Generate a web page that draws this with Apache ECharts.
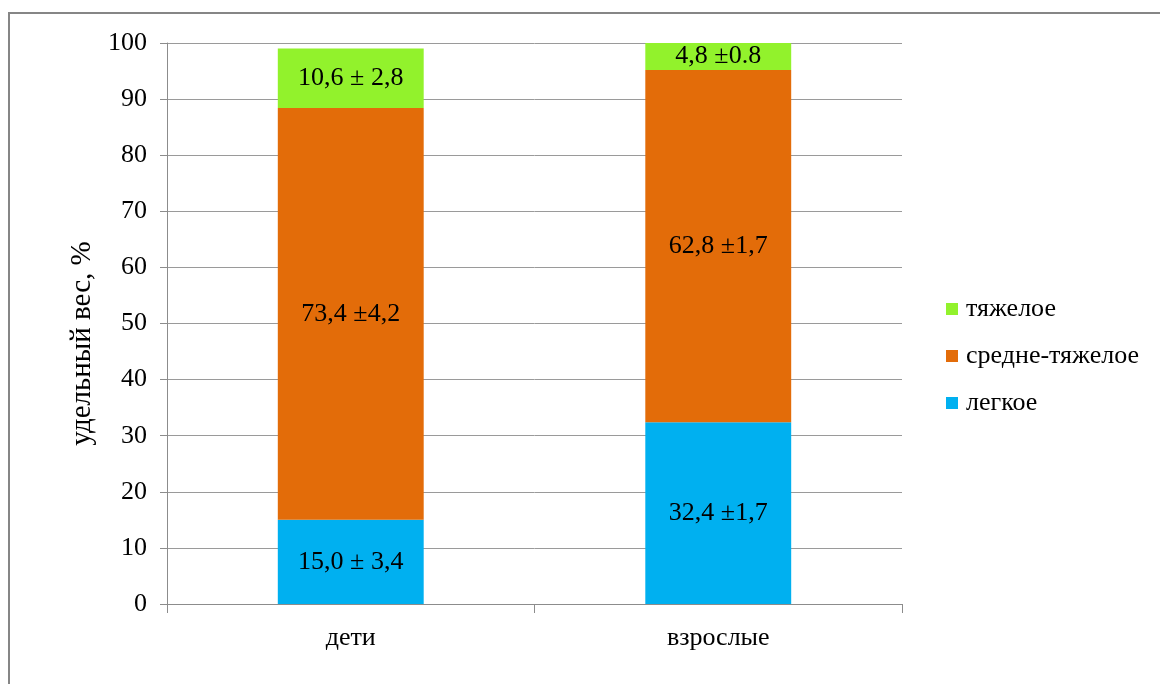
<!DOCTYPE html>
<html>
<head>
<meta charset="utf-8">
<script src="https://cdn.jsdelivr.net/npm/echarts@6/dist/echarts.min.js"></script>
<style>
  html, body { margin: 0; padding: 0; background: #fff; }
  #chart { width: 1160px; height: 684px; }
</style>
</head>
<body>
<div id="chart"></div>
<script>
// Groups on the x axis
const categories = ['дети', 'взрослые'];

// Share of each severity level, %
const lightValues = [15.0, 32.4];
const mediumValues = [73.4, 62.8];
const heavyValues = [10.6, 4.8];

// Value labels with standard deviation, as printed in each segment
const lightLabels = ['15,0 ± 3,4', '32,4 ±1,7'];
const mediumLabels = ['73,4 ±4,2', '62,8 ±1,7'];
const heavyLabels = ['10,6 ± 2,8', '4,8 ±0.8'];

// Y axis ticks
const yMin = 0, yMax = 100, yStep = 10;

const FONT = '"Liberation Serif", "Times New Roman", serif';

const chart = echarts.init(document.getElementById('chart'), null, { renderer: 'canvas' });

function seg(name, values, labels, color) {
  return {
    name: name,
    type: 'bar',
    stack: 'total',
    barWidth: '39.7%',
    data: values,
    itemStyle: { color: color },
    label: {
      show: true,
      position: 'inside',
      color: '#000',
      fontFamily: FONT,
      fontSize: 26,
      formatter: p => labels[p.dataIndex]
    },
    emphasis: { disabled: true }
  };
}

chart.setOption({
  animation: false,
  graphic: [{
    type: 'rect',
    shape: { x: 9, y: 13, width: 1170, height: 700 },
    style: { fill: 'none', stroke: '#868686', lineWidth: 2 },
    silent: true
  }],
  grid: { left: 167, right: 258, top: 43, bottom: 80 },
  legend: {
    orient: 'vertical',
    left: 946,
    top: 296,
    padding: 0,
    itemWidth: 12,
    itemHeight: 12,
    itemGap: 21,
    icon: 'rect',
    data: ['тяжелое', 'средне-тяжелое', 'легкое'],
    textStyle: { fontFamily: FONT, fontSize: 26, color: '#000', lineHeight: 24, padding: [0, 0, 0, 3] }
  },
  xAxis: {
    type: 'category',
    data: categories,
    boundaryGap: true,
    axisLine: { lineStyle: { color: '#8c8c8c', width: 1 } },
    axisTick: { show: true, length: 9, lineStyle: { color: '#8c8c8c' } },
    axisLabel: { fontFamily: FONT, fontSize: 26, color: '#000', margin: 21 }
  },
  yAxis: {
    type: 'value',
    min: yMin,
    max: yMax,
    interval: yStep,
    name: 'удельный вес, %',
    nameLocation: 'middle',
    nameGap: 57,
    nameRotate: 90,
    nameTextStyle: { fontFamily: FONT, fontSize: 29, color: '#000', padding: [0, 40, 0, 0] },
    axisLine: { show: true, lineStyle: { color: '#8c8c8c', width: 1 } },
    axisTick: { show: true, length: 7, lineStyle: { color: '#8c8c8c' } },
    axisLabel: { fontFamily: FONT, fontSize: 26, color: '#000', margin: 20 },
    splitLine: { show: true, lineStyle: { color: '#9a9a9a', width: 1 } }
  },
  series: [
    seg('легкое', lightValues, lightLabels, '#00B0F0'),
    seg('средне-тяжелое', mediumValues, mediumLabels, '#E36C09'),
    seg('тяжелое', heavyValues, heavyLabels, '#92F22C')
  ]
});
</script>
</body>
</html>
